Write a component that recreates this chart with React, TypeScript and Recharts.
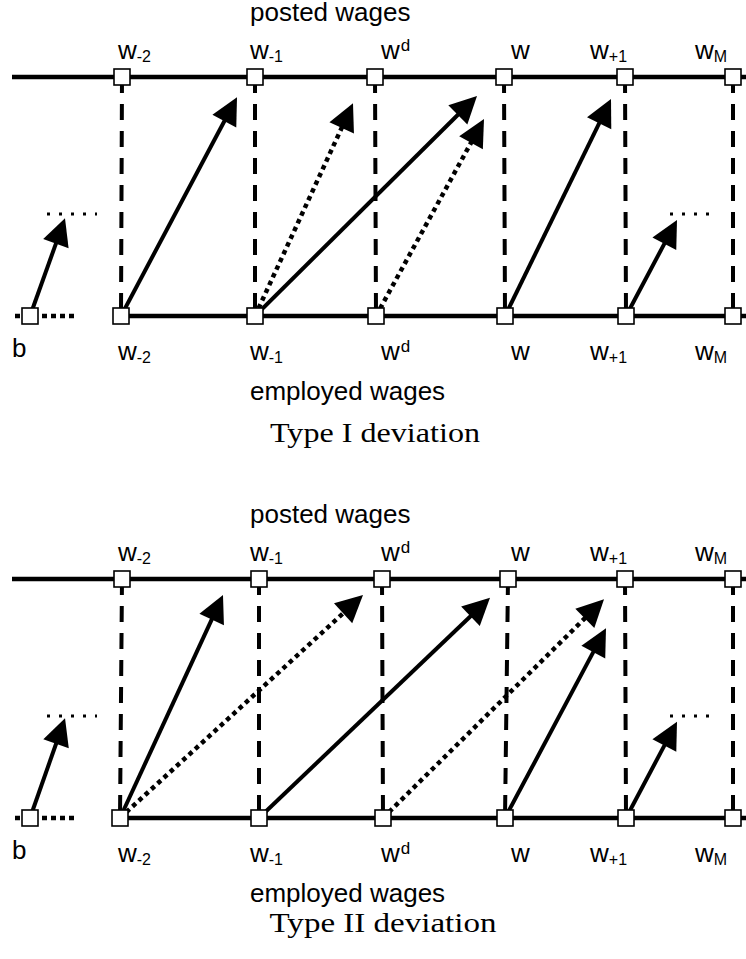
import { ScatterChart, Scatter, XAxis, YAxis } from 'recharts';

// canvas / layout
const PANEL_W = 746;
const PAD = 20; // room above the title so it is not clipped by the svg
const PANEL_H = 457 + PAD;
const PANEL_GAP = 502;
const TOP_PX = 77 + PAD;
const BOT_PX = 316 + PAD;
const PX_PER_UNIT = (BOT_PX - TOP_PX) / 100;
const Y_MAX = 100 + TOP_PX / PX_PER_UNIT;
const Y_MIN = -(PANEL_H - BOT_PX) / PX_PER_UNIT;
const toUnits = (px: number) => (BOT_PX - px - PAD) / PX_PER_UNIT;

const SANS = '"Liberation Sans", Arial, sans-serif';
const SERIF = '"Liberation Serif", "Times New Roman", serif';

// levels (employed wages = 0, posted wages = 100)
const POSTED = 100;
const EMPLOYED = 0;

// wage labels: w with sub / superscripts
const LABEL_SUB = ['-2', '-1', '', '', '+1', 'M'];
const LABEL_SUP = ['', '', 'd', '', '', ''];
const LABEL_X = [118, 250, 381, 511, 590, 695];
const B_LABEL_X = 12;

// horizontal axes and stubs
const LINE_START = 12;
const LINE_END = 746;
const B_NODE = 30;
const B_DOTS = [15, 78];
const STUB_LEFT = [47, 97];
const STUB_RIGHT = [670, 710];
const STUB_LEVEL = 42.7;

// Type I
const POSTED_I = [122, 255, 375, 504, 625, 733];
const EMPLOYED_I = [121, 255, 376, 505, 626, 733];
const ARROWS_I = [
  { from: -1, tipX: 65, tipY: 40.9, dotted: false },
  { from: 0, tipX: 237, tipY: 91.5, dotted: false },
  { from: 1, tipX: 353, tipY: 89.0, dotted: true },
  { from: 1, tipX: 477, tipY: 92.1, dotted: false },
  { from: 2, tipX: 484, tipY: 82.4, dotted: true },
  { from: 3, tipX: 611, tipY: 90.8, dotted: false },
  { from: 4, tipX: 677, tipY: 40.2, dotted: false },
];

// Type II
const POSTED_II = [122, 259, 382, 508, 625, 733];
const EMPLOYED_II = [120, 259, 383, 505, 626, 733];
const ARROWS_II = [
  { from: -1, tipX: 65, tipY: 41.7, dotted: false },
  { from: 0, tipX: 223, tipY: 93.3, dotted: false },
  { from: 0, tipX: 363, tipY: 93.3, dotted: true },
  { from: 1, tipX: 490, tipY: 92.2, dotted: false },
  { from: 2, tipX: 604, tipY: 91.5, dotted: true },
  { from: 3, tipX: 606, tipY: 79.4, dotted: false },
  { from: 4, tipX: 677, tipY: 40.3, dotted: false },
];

const Nothing = () => <g />;

const NodeSquare = (props: any) => (
  <rect
    x={props.cx - 8}
    y={props.cy - 8}
    width={16}
    height={16}
    fill="#fff"
    stroke="#000"
    strokeWidth={1.6}
  />
);

const NodeLabel = (props: any) => {
  const { cx, cy, payload } = props;
  return (
    <text x={cx} y={cy} fontFamily={SANS} fontSize={26} fill="#000">
      {payload.base}
      {payload.sub ? (
        <tspan dy={3} fontSize={16}>
          {payload.sub}
        </tspan>
      ) : null}
      {payload.sup ? (
        <tspan dy={-8} dx={1} fontSize={17}>
          {payload.sup}
        </tspan>
      ) : null}
    </text>
  );
};

const arrowLine = (dotted: boolean) => (props: any) => {
  const pts = props.points || [];
  if (pts.length < 2) return <g />;
  const a = pts[0];
  const b = pts[pts.length - 1];
  const dx = b.x - a.x;
  const dy = b.y - a.y;
  const len = Math.hypot(dx, dy) || 1;
  const ux = dx / len;
  const uy = dy / len;
  const headLen = 27;
  const halfW = 13.5;
  const bx = b.x - ux * headLen;
  const by = b.y - uy * headLen;
  const px = -uy;
  const py = ux;
  return (
    <g>
      <line
        x1={a.x}
        y1={a.y}
        x2={bx + ux * 3}
        y2={by + uy * 3}
        stroke="#000"
        strokeWidth={dotted ? 4.5 : 4}
        strokeDasharray={dotted ? '4.5 4' : undefined}
      />
      <polygon
        points={`${b.x},${b.y} ${bx + px * halfW},${by + py * halfW} ${bx - px * halfW},${by - py * halfW}`}
        fill="#000"
      />
    </g>
  );
};

interface Arrow {
  from: number;
  tipX: number;
  tipY: number;
  dotted: boolean;
}

interface PanelProps {
  posted: number[];
  employed: number[];
  arrows: Arrow[];
  caption: string;
  captionX: number;
  captionY: number;
  captionWidth: number;
}

function Panel({ posted, employed, arrows, caption, captionX, captionY, captionWidth }: PanelProps) {
  const seg = (x1: number, y1: number, x2: number, y2: number) => [
    { x: x1, y: y1 },
    { x: x2, y: y2 },
  ];
  const topLabels = LABEL_X.map((x, i) => ({
    x,
    y: toUnits(59),
    base: 'w',
    sub: LABEL_SUB[i],
    sup: LABEL_SUP[i],
  }));
  const bottomLabels = [
    { x: B_LABEL_X, y: toUnits(357), base: 'b', sub: '', sup: '' },
    ...LABEL_X.map((x, i) => ({
      x,
      y: toUnits(360),
      base: 'w',
      sub: LABEL_SUB[i],
      sup: LABEL_SUP[i],
    })),
  ];
  const nodes = [
    ...posted.map((x) => ({ x, y: POSTED })),
    ...employed.map((x) => ({ x, y: EMPLOYED })),
    { x: B_NODE, y: EMPLOYED },
  ];

  return (
    <ScatterChart width={PANEL_W} height={PANEL_H} margin={{ top: 0, right: 0, bottom: 0, left: 0 }}>
      <XAxis type="number" dataKey="x" domain={[0, PANEL_W]} allowDataOverflow hide />
      <YAxis type="number" dataKey="y" domain={[Y_MIN, Y_MAX]} allowDataOverflow hide />

      {/* posted / employed wage lines */}
      <Scatter
        data={seg(LINE_START, POSTED, LINE_END, POSTED)}
        shape={Nothing}
        line={{ stroke: '#000', strokeWidth: 4.5 }}
        isAnimationActive={false}
      />
      <Scatter
        data={seg(employed[0], EMPLOYED, LINE_END, EMPLOYED)}
        shape={Nothing}
        line={{ stroke: '#000', strokeWidth: 4.5 }}
        isAnimationActive={false}
      />

      {/* dotted continuation stubs */}
      <Scatter
        data={seg(B_DOTS[0], EMPLOYED, B_DOTS[1], EMPLOYED)}
        shape={Nothing}
        line={{ stroke: '#000', strokeWidth: 4.5, strokeDasharray: '5 4' }}
        isAnimationActive={false}
      />
      <Scatter
        data={seg(STUB_LEFT[0], STUB_LEVEL, STUB_LEFT[1], STUB_LEVEL)}
        shape={Nothing}
        line={{ stroke: '#000', strokeWidth: 3, strokeDasharray: '3 9' }}
        isAnimationActive={false}
      />
      <Scatter
        data={seg(STUB_RIGHT[0], STUB_LEVEL, STUB_RIGHT[1], STUB_LEVEL)}
        shape={Nothing}
        line={{ stroke: '#000', strokeWidth: 3, strokeDasharray: '3 9' }}
        isAnimationActive={false}
      />

      {/* dashed verticals */}
      {posted.map((x, i) => (
        <Scatter
          key={`v${i}`}
          data={seg(x, POSTED, employed[i], EMPLOYED)}
          shape={Nothing}
          line={{ stroke: '#000', strokeWidth: 4, strokeDasharray: '16 11' }}
          isAnimationActive={false}
        />
      ))}

      {/* deviation arrows */}
      {arrows.map((a, i) => (
        <Scatter
          key={`a${i}`}
          data={seg(a.from < 0 ? B_NODE : employed[a.from], EMPLOYED, a.tipX, a.tipY)}
          shape={Nothing}
          line={arrowLine(a.dotted)}
          isAnimationActive={false}
        />
      ))}

      {/* wage nodes */}
      <Scatter data={nodes} shape={NodeSquare} isAnimationActive={false} />

      {/* wage labels */}
      <Scatter data={topLabels} shape={NodeLabel} isAnimationActive={false} />
      <Scatter data={bottomLabels} shape={NodeLabel} isAnimationActive={false} />

      <text x={250} y={21 + PAD} fontFamily={SANS} fontSize={26} fill="#000">
        posted wages
      </text>
      <text x={250} y={400 + PAD} fontFamily={SANS} fontSize={26} fill="#000">
        employed wages
      </text>
      <text
        x={captionX}
        y={captionY + PAD}
        textAnchor="middle"
        fontFamily={SERIF}
        fontSize={28}
        textLength={captionWidth}
        lengthAdjust="spacingAndGlyphs"
        fill="#000"
      >
        {caption}
      </text>
    </ScatterChart>
  );
}

export default function App() {
  return (
    <div
      style={{
        position: 'absolute',
        left: 0,
        top: 0,
        width: PANEL_W,
        height: 959,
        overflow: 'hidden',
        background: '#fff',
      }}
    >
      <div style={{ position: 'absolute', left: 0, top: -PAD }}>
        <Panel
          posted={POSTED_I}
          employed={EMPLOYED_I}
          arrows={ARROWS_I}
          caption="Type I deviation"
          captionX={375}
          captionY={442}
          captionWidth={210}
        />
      </div>
      <div style={{ position: 'absolute', left: 0, top: PANEL_GAP - PAD }}>
        <Panel
          posted={POSTED_II}
          employed={EMPLOYED_II}
          arrows={ARROWS_II}
          caption="Type II deviation"
          captionX={383}
          captionY={430}
          captionWidth={227}
        />
      </div>
    </div>
  );
}
